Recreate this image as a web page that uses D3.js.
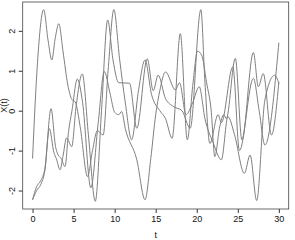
<!DOCTYPE html>
<html>
<head>
<meta charset="utf-8">
<script src="https://cdn.jsdelivr.net/npm/d3@7"></script>
<style>
  body { margin: 0; background: #fff; }
  text { font-family: "Liberation Sans", Arial, sans-serif; fill: #111; }
</style>
</head>
<body>
<div id="chart"></div>
<script>
// three sample paths, [t, X(t)]
const pathA = [
  [0, -1.2], [0.6, 1.2], [1.35, 2.53], [1.9, 1.75], [2.35, 1.27], [2.75, 1.8], [3.2, 2.18],
  [3.7, 1.5], [4.3, 0.64], [4.8, 0.28], [5.2, 0.22], [5.8, -0.4], [6.7, -1.65], [7.3, -1.0],
  [7.9, -0.5], [8.6, -0.61], [9.2, 1.0], [9.9, 2.53], [10.6, 1.3], [11.3, 0.2], [12.07, -0.73],
  [12.9, 0.5], [13.7, 1.27], [14.5, 0.4], [15.5, 0.0], [16.2, -0.2], [17.0, -0.69],
  [18.0, 1.93], [18.85, -0.73], [19.5, 0.6], [20.1, 1.49], [20.6, 1.39], [21.2, 0.7], [21.75, 0.02],
  [22.2, -1.15], [22.8, -0.4], [23.3, -0.1], [23.6, -0.2], [24.7, 1.31], [25.5, -0.73], [26.9, 1.46],
  [27.5, 0.6], [28.1, 0.93], [29.1, -0.61], [30, 0.72]
];
const pathB = [
  [0, -2.23], [0.5, -1.9], [1.0, -1.75], [1.5, -1.45], [2.25, 0.05], [2.8, -0.9], [3.1, -1.1],
  [3.5, -1.2], [3.95, -1.4], [4.4, -0.5], [4.8, 0.0], [5.45, 0.79], [6.1, 0.2], [7.1, -1.93],
  [8.0, -0.3], [8.74, 0.98], [9.43, 0.44], [10.0, -0.04], [10.5, -0.1], [10.85, -0.02],
  [11.3, -0.45], [12.7, -1.23], [13.7, -2.23],
  [14.4, -1.2], [15.0, -0.1], [15.5, 0.5], [16.2, 0.97], [17.4, 0.52], [17.9, 0.7], [18.7, -0.1],
  [19.5, 0.2], [20.3, 0.6], [21.0, -0.2], [22.0, -0.8], [23.0, -1.23], [23.8, -0.15], [24.6, -0.6],
  [25.8, -1.57], [26.5, -1.11], [27.3, -2.25], [28.3, 0.27], [29.5, 0.89], [30, 0.68]
];
const pathC = [
  [0, -2.23], [0.5, -2.0], [1.0, -1.85], [1.5, -1.5], [2.05, -0.45], [2.6, -1.05], [2.9, -1.2],
  [3.35, -1.48], [3.7, -1.15], [4.15, -0.68], [4.77, -0.9], [5.3, 0.1], [6.06, 0.92], [6.8, -0.6],
  [7.64, -2.27], [8.4, 0.0], [9.15, 2.27], [9.8, 1.27], [10.5, 0.7], [11.8, 0.69], [12.7, -0.44],
  [13.97, 1.3], [14.7, 0.5], [15.3, 0.89], [16.2, 0.3], [17.2, 0.1], [18.2, 0.0], [19.2, -0.44],
  [20.5, 2.53], [21.0, 0.7], [21.6, -0.82], [22.6, -0.1], [23.0, -0.3], [24.4, 1.1], [25.2, -1.0],
  [26.9, 0.81], [27.6, 0.0], [28.3, -0.86], [30, 1.7]
];
const xTicks = [0, 5, 10, 15, 20, 25, 30];
const yTicks = [-2, -1, 0, 1, 2];

const width = 295,
      height = 240;
const box = { left: 22.7, right: 288.7, top: 2, bottom: 209 };

const svg = d3.select("#chart")
  .append("svg")
  .attr("width", width)
  .attr("height", height);

let x = d3.scaleLinear().domain([-1.2, 31.2]).range([box.left, box.right]),
    y = d3.scaleLinear().domain([-2.462, 2.722]).range([box.bottom, box.top]);

const line = d3.line()
  .x((d) => x(d[0]))
  .y((d) => y(d[1]))
  .curve(d3.curveMonotoneX);

svg.selectAll("path.series")
  .data([pathA, pathB, pathC])
  .enter()
  .append("path")
  .attr("class", "series")
  .attr("d", line)
  .attr("fill", "none")
  .attr("stroke", "#808080")
  .attr("stroke-width", 1);

// axes, R style (plain hyphen minus)
const fmt = (d) => String(d);

const xAxis = d3.axisBottom(x).tickValues(xTicks).tickFormat(fmt).tickSize(4).tickPadding(3).tickSizeOuter(0);
const gx = svg.append("g")
  .attr("transform", "translate(0," + box.bottom + ")")
  .call(xAxis);
gx.select(".domain").remove();
gx.selectAll("text").style("font-size", "9px");

const yAxis = d3.axisLeft(y).tickValues(yTicks).tickFormat(fmt).tickSize(4).tickSizeOuter(0);
const gy = svg.append("g")
  .attr("transform", "translate(" + box.left + ",0)")
  .call(yAxis);
gy.select(".domain").remove();
gy.selectAll("text")
  .attr("x", 0)
  .attr("y", -8)
  .attr("dy", 0)
  .attr("transform", "rotate(-90)")
  .attr("text-anchor", "middle")
  .style("font-size", "9px");

svg.selectAll(".tick line").attr("stroke", "#333");

svg.append("rect")
  .attr("x", box.left)
  .attr("y", box.top)
  .attr("width", box.right - box.left)
  .attr("height", box.bottom - box.top)
  .attr("fill", "none")
  .attr("stroke", "#444")
  .attr("stroke-width", 0.8);

// axis titles
svg.append("text")
  .text("t")
  .attr("x", (box.left + box.right) / 2)
  .attr("y", 238)
  .attr("text-anchor", "middle")
  .style("font-size", "9px");

svg.append("text")
  .text("X(t)")
  .attr("transform", "translate(6.5," + (box.top + box.bottom) / 2 + ") rotate(-90)")
  .attr("text-anchor", "middle")
  .style("font-size", "9px");
</script>
</body>
</html>
